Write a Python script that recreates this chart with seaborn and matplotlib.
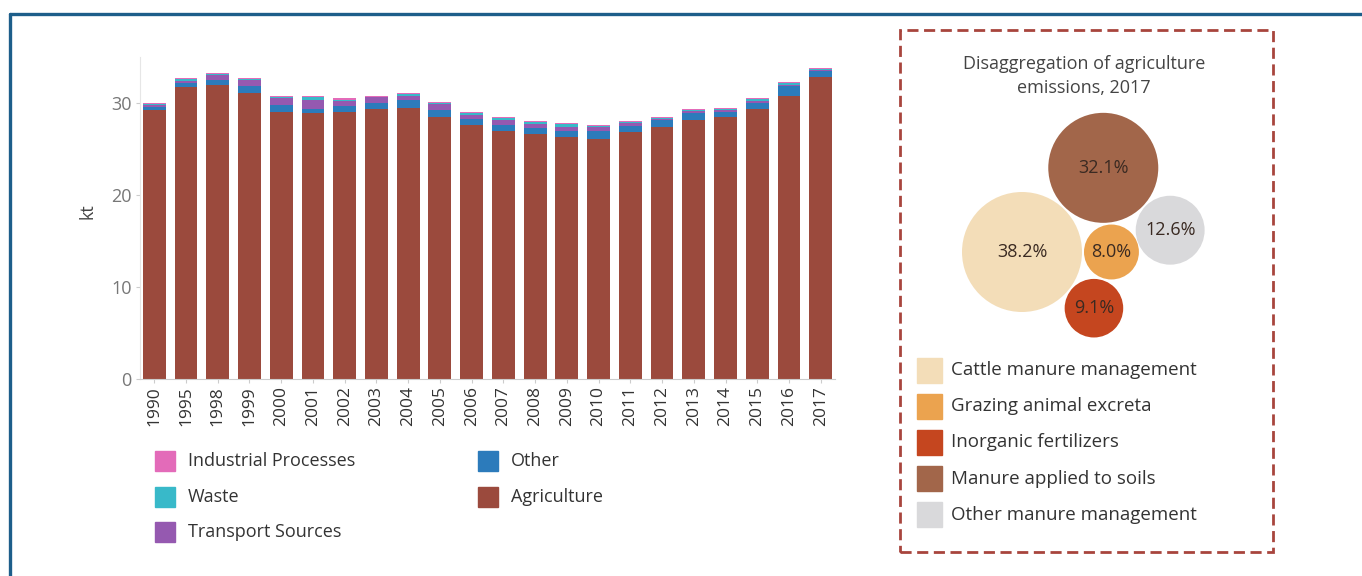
import matplotlib
matplotlib.use("Agg")
import matplotlib.pyplot as plt
from matplotlib.lines import Line2D
from matplotlib.patches import Rectangle
import numpy as np
import pandas as pd
import seaborn as sns

# ---- data: N2O emissions by sector (kt) ----
years = ["1990", "1995", "1998", "1999", "2000", "2001", "2002", "2003", "2004",
         "2005", "2006", "2007", "2008", "2009", "2010", "2011", "2012", "2013",
         "2014", "2015", "2016", "2017"]
agriculture = [29.2, 31.7, 32.0, 31.05, 29.05, 28.9, 29.05, 29.3, 29.5, 28.45, 27.6,
               26.95, 26.6, 26.3, 26.1, 26.8, 27.4, 28.2, 28.45, 29.3, 30.8, 32.8]
other = [0.4, 0.5, 0.5, 0.8, 0.7, 0.5, 0.6, 0.7, 0.8, 0.8, 0.7,
         0.7, 0.7, 0.7, 0.9, 0.7, 0.8, 0.7, 0.6, 0.7, 1.0, 0.7]
transport = [0.2, 0.2, 0.55, 0.6, 0.8, 0.9, 0.6, 0.6, 0.5, 0.6, 0.4,
             0.5, 0.4, 0.4, 0.4, 0.3, 0.1, 0.2, 0.2, 0.2, 0.2, 0.1]
waste = [0.1, 0.2, 0.1, 0.15, 0.1, 0.35, 0.1, 0.1, 0.15, 0.2, 0.25,
         0.2, 0.25, 0.3, 0.1, 0.15, 0.05, 0.15, 0.15, 0.2, 0.2, 0.1]
industrial = [0.1, 0.1, 0.1, 0.1, 0.15, 0.15, 0.15, 0.1, 0.1, 0.1, 0.1,
              0.1, 0.1, 0.1, 0.1, 0.1, 0.1, 0.1, 0.1, 0.1, 0.1, 0.1]

# ---- data: agriculture breakdown 2017 (%) ----
agri_labels = ["Cattle manure management", "Grazing animal excreta",
               "Inorganic fertilizers", "Manure applied to soils",
               "Other manure management"]
agri_share = [38.2, 8.0, 9.1, 32.1, 12.6]

sector_colors = {
    "Agriculture": "#9b4a3d",
    "Other": "#2c7bbb",
    "Transport Sources": "#9559b0",
    "Waste": "#38b9c9",
    "Industrial Processes": "#e36bb9",
}
agri_colors = ["#f3ddb8", "#eba34f", "#c5461f", "#a2664a", "#d9d9db"]

W, H = 1362, 576
sns.set_style("white")
plt.rcParams["font.family"] = ["Open Sans", "DejaVu Sans"]

fig = plt.figure(figsize=(W / 100, H / 100), dpi=100)


def fx(px):
    return px / W


def fy(py):
    return 1 - py / H


# ---- stacked bars (cumulative layers drawn top-down) ----
df = pd.DataFrame({
    "year": years,
    "Agriculture": agriculture,
    "Other": other,
    "Transport Sources": transport,
    "Waste": waste,
    "Industrial Processes": industrial,
})
stack_order = ["Agriculture", "Other", "Transport Sources", "Waste", "Industrial Processes"]
cum = df[stack_order].cumsum(axis=1)

ax = fig.add_axes([fx(140), fy(379), fx(835) - fx(140), fy(57) - fy(379)])
for name in reversed(stack_order):
    sns.barplot(x=df["year"], y=cum[name], color=sector_colors[name], width=0.72,
                saturation=1, errorbar=None, linewidth=0, ax=ax)

ax.set_xlim(-0.45, 21.45)
ax.set_ylim(0, 35)
ax.set_yticks([0, 10, 20, 30])
ax.set_xlabel("")
ax.set_ylabel("kt", fontsize=13, color="#444444")
ax.yaxis.set_label_coords(-0.062, 0.52)
ax.tick_params(axis="y", colors="#cccccc", labelcolor="#777777", labelsize=13,
               length=3, width=0.8, left=True, pad=3)
ax.tick_params(axis="x", colors="#cccccc", labelcolor="#333333", labelsize=12.5,
               length=3, width=0.8, bottom=True, labelrotation=90, pad=2)
for s in ["top", "right"]:
    ax.spines[s].set_visible(False)
ax.spines["left"].set_color("#e6e6e6")
ax.spines["bottom"].set_color("#cccccc")

# ---- bar legend ----
leg_items = ["Industrial Processes", "Waste", "Transport Sources", "Other", "Agriculture"]
for i, name in enumerate(leg_items):
    col, row = divmod(i, 3)
    x0 = 155 + col * 323
    yc = 461 + row * 35.5
    fig.patches.append(Rectangle((fx(x0), fy(yc + 10)), fx(20), 20 / H,
                                 transform=fig.transFigure, color=sector_colors[name]))
    fig.text(fx(x0 + 33), fy(yc), name, fontsize=13, color="#333333", va="center")

# ---- right panel: dashed box ----
fig.patches.append(Rectangle((fx(900), fy(552)), fx(1273) - fx(900), fy(30) - fy(552),
                             transform=fig.transFigure, fill=False,
                             edgecolor="#a8453d", linewidth=2, linestyle=(0, (4, 2))))
fig.text(fx(1084), fy(76), "Disaggregation of agriculture\nemissions, 2017",
         ha="center", va="center", fontsize=13, color="#444444", linespacing=1.4)

# ---- bubbles (area proportional to share, packed by tangency) ----
bx = fig.add_axes([0, 0, 1, 1])
bx.set_xlim(0, W)
bx.set_ylim(H, 0)
bx.set_axis_off()

r_max = 60.0
radii = [r_max * np.sqrt(v / max(agri_share)) for v in agri_share]
# (parent index, angle in degrees) for tangent placement; -1 = anchor
placement = [(-1, 0), (0, 0), (0, -38), (0, 46), (3, -43)]
centers = [None] * len(agri_share)
for i in [0, 3, 1, 2, 4]:
    parent, ang = placement[i]
    if parent < 0:
        centers[i] = (1022.0, 252.0)
    else:
        px, py = centers[parent]
        d = radii[parent] + radii[i] + 2
        a = np.deg2rad(ang)
        centers[i] = (px + d * np.cos(a), py - d * np.sin(a))

bub = pd.DataFrame({
    "x": [c[0] for c in centers],
    "y": [c[1] for c in centers],
    "label": agri_labels,
    "s": [(2 * r * 0.72) ** 2 for r in radii],
})
sns.scatterplot(data=bub, x="x", y="y", hue="label", palette=agri_colors,
                size="s", sizes=(bub["s"].min(), bub["s"].max()),
                linewidth=0, legend=False, ax=bx)
for (cx, cy), v in zip(centers, agri_share):
    bx.text(cx, cy, f"{v:.1f}%", ha="center", va="center", fontsize=13, color="#3a2a22")

# ---- bubble legend ----
for i, (name, c) in enumerate(zip(agri_labels, agri_colors)):
    yc = 370 + i * 36.2
    fig.patches.append(Rectangle((fx(917), fy(yc + 12.5)), fx(25), 25 / H,
                                 transform=fig.transFigure, color=c))
    fig.text(fx(951), fy(yc), name, fontsize=13.5, color="#333333", va="center")

# ---- outer frame (top + left edges) ----
fig.lines.append(Line2D([fx(10), 1], [fy(14), fy(14)], transform=fig.transFigure,
                        color="#1d5e8a", linewidth=2.4))
fig.lines.append(Line2D([fx(10), fx(10)], [fy(14), 0], transform=fig.transFigure,
                        color="#1d5e8a", linewidth=2.4))

fig.savefig("out.png", dpi=100)
